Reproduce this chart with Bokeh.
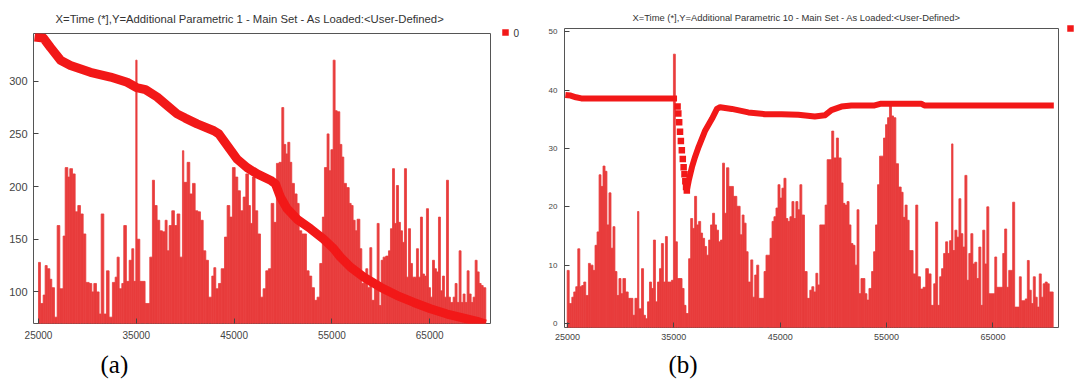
import numpy as np
from bokeh.plotting import figure
from bokeh.layouts import row, column
from bokeh.models import Range1d, FixedTicker, Title, ColumnDataSource
from bokeh.core.properties import value
from bokeh.embed import file_html
from bokeh.resources import INLINE

# ---------------- Panel (a) data ----------------
a_title = "X=Time (*],Y=Additional Parametric 1 - Main Set - As Loaded:<User-Defined>"
a_x_ticks = [25000, 35000, 45000, 55000, 65000]
a_y_ticks = [100, 150, 200, 250, 300]
a_bar_start = [25000, 25200, 25480, 25680, 25890, 26160, 26360, 26640, 26910, 27180,
               27520, 27730, 28000, 28200, 28480, 28750, 29020, 29290, 29570, 29840,
               30180, 30450, 30660, 30930, 31200, 31410, 31680, 31950, 32220, 32560,
               32840, 33040, 33250, 33520, 33720, 33990, 34270, 34540, 34740, 34950,
               35080, 35360, 35900, 36380, 36650, 36860, 37130, 37400, 37670, 37950,
               38150, 38360, 38630, 38900, 39170, 39450, 39720, 39860, 40200, 40470,
               40750, 41020, 41290, 41560, 41840, 42110, 42380, 42720, 42930, 43130,
               43400, 43680, 44020, 44290, 44560, 44830, 45110, 45380, 45650, 45930,
               46200, 46470, 46670, 46880, 47150, 47420, 47700, 47970, 48240, 48510,
               48790, 49060, 49330, 49600, 49880, 50080, 50290, 50490, 50700, 50900,
               51170, 51440, 51650, 51920, 52130, 52400, 52670, 52940, 53220, 53490,
               53760, 54030, 54240, 54510, 54710, 54900, 55130, 55330, 55540, 55810,
               56020, 56220, 56490, 56770, 56970, 57170, 57380, 57580, 57860, 58060,
               58270, 58470, 58670, 58880, 59080, 59350, 59630, 59830, 60040, 60240,
               60510, 60790, 60990, 61200, 61400, 61600, 61810, 62010, 62220, 62420,
               62630, 62830, 63040, 63240, 63440, 63650, 63850, 64060, 64260, 64470,
               64670, 64880, 65080, 65290, 65490, 65690, 65900, 66100, 66310, 66510,
               66720, 66920, 67120, 67400, 67600, 67800, 68010, 68210, 68420, 68620,
               68830, 69030, 69240, 69440, 69650, 69850, 70060, 70260, 70470]
a_bar_last_end = 70740
a_bar_val = [128, 89, 97, 125, 122, 112, 104, 76, 163, 103,
             153, 218, 209, 217, 212, 176, 182, 174, 155, 109,
             108, 100, 108, 100, 79, 174, 79, 120, 76, 109,
             114, 133, 103, 108, 163, 110, 130, 141, 110, 320,
             150, 110, 89, 133, 206, 182, 168, 158, 157, 168,
             139, 163, 177, 163, 174, 133, 234, 204, 223, 193,
             203, 177, 176, 168, 139, 130, 95, 115, 123, 103,
             108, 122, 152, 182, 171, 218, 209, 196, 177, 190,
             212, 182, 165, 209, 177, 155, 95, 103, 120, 122,
             184, 166, 222, 223, 275, 240, 231, 242, 223, 203,
             193, 184, 158, 155, 155, 120, 115, 104, 92, 95,
             127, 171, 218, 250, 215, 235, 320, 272, 271, 240,
             228, 203, 199, 184, 182, 168, 158, 169, 141, 108,
             114, 122, 104, 142, 92, 108, 165, 87, 130, 133,
             134, 139, 160, 217, 165, 201, 166, 158, 147, 217,
             114, 160, 127, 114, 114, 141, 114, 171, 117, 115,
             179, 104, 95, 130, 122, 119, 171, 101, 115, 95,
             206, 95, 90, 95, 108, 90, 139, 90, 98, 90,
             120, 98, 90, 95, 130, 119, 108, 106, 104]
a_line_t = [24600, 25500, 26230, 27250, 28270, 30310, 32360, 34060, 35020, 35940,
            37130, 38150, 39170, 40000, 41220, 42930, 43440, 44290, 45310, 46330,
            47360, 48720, 49230, 49740, 50420, 51440, 52810, 54170, 55190, 55880,
            56900, 58265, 59970, 61670, 63380, 65080, 66780, 68490, 69850, 70700]
a_line_v = [342, 341, 332, 320, 315, 308.5, 304, 299, 294, 292,
            285, 277, 269, 265, 259.5, 253, 250, 239, 226, 218,
            212, 206, 202.5, 190, 179, 169, 160, 150, 141, 133,
            123.5, 114, 104.5, 96.5, 90, 84, 79, 75, 72, 69.5]
a_legend = "0"
a_caption = "(a)"

# ---------------- Panel (b) data ----------------
b_title = "X=Time (*],Y=Additional Parametric 10 - Main Set - As Loaded:<User-Defined>"
b_x_ticks = [25000, 35000, 45000, 55000, 65000]
b_y_ticks = [0, 10, 20, 30, 40, 50]
b_bar_start = [24970, 25160, 25410, 25590, 25780, 25970, 26160, 26340, 26530, 26720,
               26970, 27150, 27400, 27590, 27780, 27970, 28150, 28340, 28530, 28710,
               28900, 29090, 29280, 29460, 29650, 29840, 30030, 30210, 30460, 30710,
               30900, 31150, 31340, 31590, 31710, 31960, 32150, 32330, 32520, 32710,
               32900, 33080, 33270, 33460, 33650, 33830, 34020, 34210, 34390, 34580,
               34770, 34960, 35140, 35330, 35580, 35770, 35960, 36140, 36390, 36580,
               36770, 36950, 37140, 37330, 37520, 37700, 37890, 38080, 38270, 38450,
               38640, 38830, 39010, 39200, 39390, 39580, 39760, 39950, 40170, 40600,
               40920, 41230, 41420, 41600, 41790, 41980, 42230, 42420, 42600, 42790,
               42980, 43480, 43660, 44040, 44230, 44410, 44600, 44790, 44980, 45160,
               45350, 45540, 45720, 45910, 46100, 46290, 46470, 46660, 46850, 47030,
               47280, 47530, 47780, 47970, 48160, 48350, 48530, 48720, 49220, 49410,
               49840, 50030, 50280, 50470, 50720, 50900, 51090, 51280, 51470, 51650,
               51840, 52030, 52220, 52400, 52590, 52960, 53150, 53340, 53590, 53780,
               53960, 54150, 54340, 54710, 54900, 55090, 55270, 55460, 55650, 55870,
               56120, 56370, 56550, 56740, 56930, 57120, 57490, 57740, 57930, 58180,
               58430, 58680, 58930, 59180, 59430, 59610, 59800, 59990, 60170, 60360,
               60550, 60740, 60920, 61110, 61240, 61420, 61610, 61800, 61980, 62170,
               62360, 62550, 62730, 62920, 63110, 63290, 63480, 63670, 63860, 64040,
               64230, 64420, 64610, 65170, 65350, 65920, 66100, 66290, 66480, 66850,
               67040, 67480, 67660, 68040, 68230, 68410, 68600, 68790, 68980, 69160,
               69350, 69540, 69720, 69910, 70100, 70290]
b_bar_last_end = 70660
b_bar_val = [9.1, 3.4, 4.5, 5.4, 6.3, 12.8, 6.3, 6.5, 7.1, 4.8,
             10.3, 10.0, 9.1, 13.4, 15.7, 25.5, 23.5, 27.0, 26.1, 16.9,
             22.4, 12.9, 16.6, 8.9, 4.8, 7.7, 5.1, 7.7, 5.4, 4.3,
             4.3, 1.4, 4.3, 19.2, 2.5, 9.4, 1.4, 0.8, 3.7, 7.1,
             6.0, 14.3, 3.7, 7.1, 9.4, 13.7, 7.1, 14.9, 7.1, 7.1,
             7.4, 46.2, 14.0, 7.7, 7.7, 6.0, 3.1, 1.7, 11.1, 18.0,
             16.3, 21.8, 16.9, 17.5, 15.5, 14.6, 13.2, 11.7, 14.3, 16.9,
             18.9, 16.9, 16.0, 14.0, 14.3, 27.5, 18.9, 26.7, 23.5, 21.8,
             20.1, 15.2, 18.6, 17.2, 12.3, 7.1, 10.9, 4.5, 8.3, 10.0,
             4.3, 8.9, 11.7, 14.6, 17.5, 18.3, 19.8, 23.8, 21.5, 23.2,
             24.9, 18.0, 17.5, 18.3, 20.9, 18.0, 20.9, 19.5, 23.8, 18.6,
             8.9, 4.3, 5.7, 6.3, 5.4, 8.6, 6.6, 16.9, 20.3, 28.1,
             33.0, 28.4, 31.8, 28.4, 24.1, 20.6, 20.3, 20.9, 16.9, 13.7,
             13.4, 10.0, 19.5, 5.1, 7.7, 5.1, 4.0, 6.0, 8.9, 12.3,
             16.9, 23.8, 28.7, 31.8, 34.1, 35.3, 37.6, 35.6, 35.3, 27.4,
             23.4, 22.5, 18.2, 20.3, 17.7, 12.5, 8.5, 20.3, 8.0, 5.9,
             6.2, 9.4, 8.5, 3.1, 6.8, 17.4, 3.1, 8.0, 9.4, 12.0,
             14.0, 12.0, 14.2, 30.8, 12.5, 16.0, 14.8, 21.4, 15.4, 13.1,
             25.4, 7.4, 12.0, 15.4, 10.2, 10.5, 7.7, 13.1, 3.1, 16.0,
             10.2, 20.0, 5.1, 11.4, 6.2, 12.0, 16.2, 6.2, 9.1, 20.8,
             2.8, 8.0, 3.9, 4.2, 10.8, 5.7, 3.4, 8.0, 4.5, 2.8,
             8.5, 4.5, 6.8, 7.1, 6.8, 5.4]
b_line1_t = [24800, 25300, 25800, 26300, 35300]
b_line1_v = [39.2, 39.1, 38.8, 38.6, 38.6]
b_dip_t = [35350, 35420, 35500, 35580, 35660, 35750, 35840, 35920, 36000, 36080, 36150, 36220]
b_dip_v = [37.2, 36.0, 34.5, 32.9, 31.3, 29.7, 28.2, 26.8, 25.6, 24.4, 23.4, 22.8]
b_line2_t = [36220, 36400, 36700, 37000, 37330, 37950, 38580, 39050, 39350, 40450,
             42000, 43570, 45130, 46700, 48250, 49190, 49810, 50750, 51690, 53870,
             54490, 58240, 58550, 70720]
b_line2_v = [22.8, 24.5, 26.8, 28.6, 30.3, 33.1, 35.1, 36.8, 37.1, 36.8,
             36.2, 35.9, 35.9, 35.8, 35.5, 35.7, 36.6, 37.2, 37.4, 37.4,
             37.7, 37.7, 37.4, 37.4]
b_legend = ""
b_caption = "(b)"

RED = "#f21818"
BAR = "#e83c3c"
FONT = "Liberation Sans"
H = 387


def style(p, xt, yt, xfs, yfs, xstand, ystand):
    p.xaxis.ticker = FixedTicker(ticks=xt)
    p.yaxis.ticker = FixedTicker(ticks=yt)
    for ax in p.axis:
        ax.axis_line_color = None
        ax.major_tick_in = 5
        ax.major_tick_out = 0
        ax.minor_tick_in = 0
        ax.minor_tick_out = 0
        ax.major_tick_line_color = "#444444"
        ax.major_label_text_color = "#444444"
        ax.major_label_text_font = FONT
    p.xaxis.major_label_text_font_size = xfs
    p.yaxis.major_label_text_font_size = yfs
    p.xaxis.major_label_standoff = xstand
    p.yaxis.major_label_standoff = ystand
    p.grid.visible = False
    p.outline_line_color = "#555555"
    p.outline_line_width = 1
    p.background_fill_color = "white"
    p.border_fill_color = "white"


def bars(p, starts, last_end, vals):
    rights = list(starts[1:]) + [last_end]
    src = ColumnDataSource(dict(left=starts, right=rights, top=vals, bottom=[-100] * len(vals)))
    p.quad(left="left", right="right", top="top", bottom="bottom", source=src,
           fill_color=BAR, line_color=BAR, line_width=0.8)


def legend_strip(width, label, sq_x, sq_y):
    # a narrow key strip at the right of a panel: square marker plus its label
    lp = figure(width=width, height=H, output_backend="svg", toolbar_location=None,
                x_axis_location=None, y_axis_location=None, min_border=0,
                x_range=Range1d(0, width), y_range=Range1d(H, 0))
    lp.outline_line_color = None
    lp.grid.visible = False
    lp.scatter([sq_x], [sq_y], marker="square", size=6.5, fill_color=RED, line_color=None)
    if label:
        lp.text([sq_x + 8], [sq_y], text=[label], text_font=value(FONT), text_font_size="10px",
                text_color="#333333", text_baseline="middle", text_align="left")
    return lp


def caption(p, text, offset, standoff):
    p.add_layout(Title(text=text, align="left", offset=offset, standoff=standoff,
                       text_font="Liberation Serif", text_font_size="25px",
                       text_font_style="normal", text_color="black"), "below")


def title(p, text, size, offset, standoff):
    p.title.text = text
    p.title.align = "left"
    p.title.vertical_align = "top"
    p.title.offset = offset
    p.title.text_font = FONT
    p.title.text_font_size = size
    p.title.text_font_style = "normal"
    p.title.text_color = "#333333"
    p.title.standoff = standoff


# ---------------- figure (a) ----------------
pa = figure(width=495, height=H, output_backend="svg", toolbar_location=None,
            x_range=Range1d(24490, 71220), y_range=Range1d(70, 345.3),
            min_border_left=33, min_border_right=5, min_border_top=33, min_border_bottom=64)
style(pa, a_x_ticks, a_y_ticks, "10px", "11px", 7, 6)
bars(pa, a_bar_start, a_bar_last_end, a_bar_val)
pa.line(a_line_t, a_line_v, line_color=RED, line_width=9, line_join="round")
title(pa, a_title, "11.3px", 22, 13)
caption(pa, a_caption, 67, 14)
la = legend_strip(50, a_legend, 10, 32)

# ---------------- figure (b) ----------------
pb = figure(width=520, height=H, output_backend="svg", toolbar_location=None,
            x_range=Range1d(24720, 71160), y_range=Range1d(-0.7, 50.6),
            min_border_left=17, min_border_right=7, min_border_top=28, min_border_bottom=60)
style(pb, b_x_ticks, b_y_ticks, "9px", "8px", 6, 7)
bars(pb, b_bar_start, b_bar_last_end, b_bar_val)
pb.line(b_line1_t, b_line1_v, line_color=RED, line_width=6, line_join="round")
pb.scatter(b_dip_t, b_dip_v, marker="square", size=6.5, fill_color=RED, line_color=None)
pb.line(b_line2_t, b_line2_v, line_color=RED, line_width=6, line_join="round")
title(pb, b_title, "9.4px", 68, 8)
caption(pb, b_caption, 104, 12)
lb = legend_strip(14, b_legend, 5, 28)

layout = row(column(pa), column(la), column(pb), column(lb))
open("out.html", "w").write(file_html(layout, INLINE))
